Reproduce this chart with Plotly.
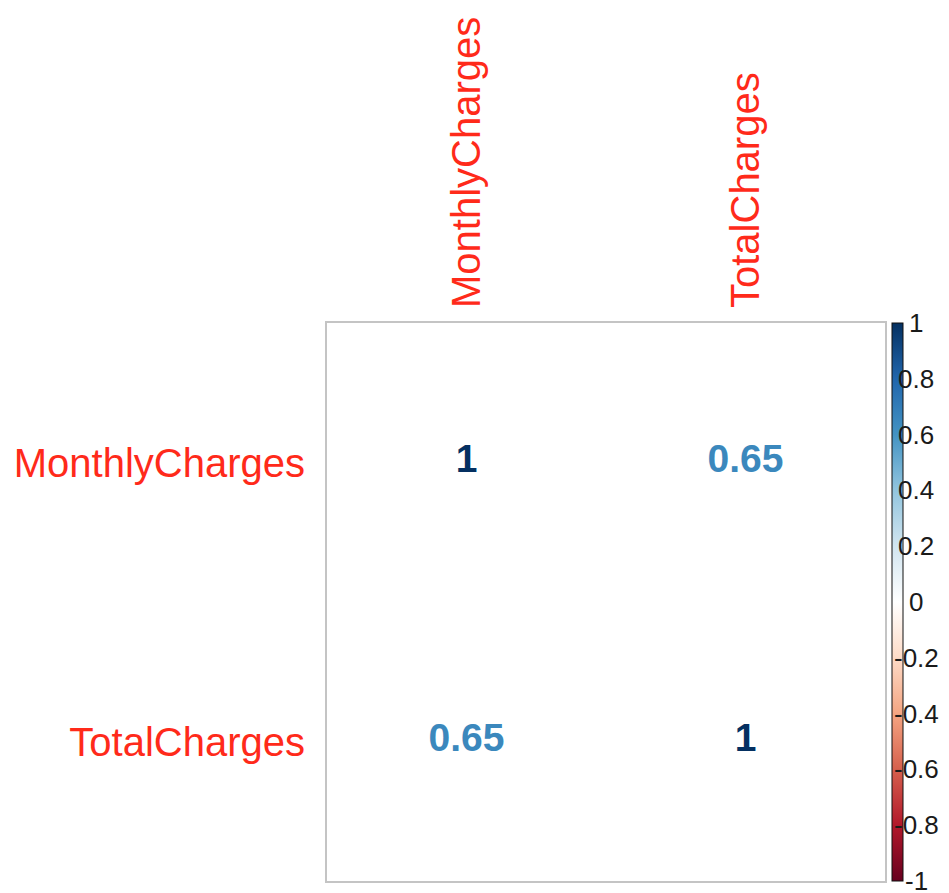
import plotly.graph_objects as go
from plotly.colors import sample_colorscale

# Data
variables = ["MonthlyCharges", "TotalCharges"]
corr = [[1.00, 0.65],
        [0.65, 1.00]]
bar_ticks = [1, 0.8, 0.6, 0.4, 0.2, 0, -0.2, -0.4, -0.6, -0.8, -1]
bar_labels = ["1", "0.8", "0.6", "0.4", "0.2", "0", "-0.2", "-0.4", "-0.6", "-0.8", "-1"]

rdbu = ["#67001F", "#B2182B", "#D6604D", "#F4A582", "#FDDBC7", "#FFFFFF",
        "#D1E5F0", "#92C5DE", "#4393C3", "#2166AC", "#053061"]
colorscale = [[i / (len(rdbu) - 1), c] for i, c in enumerate(rdbu)]

xs, ys, vals, texts = [], [], [], []
for i, row in enumerate(corr):
    for j, v in enumerate(row):
        xs.append(variables[j])
        ys.append(variables[i])
        vals.append(v)
        texts.append(f"{v:g}")

text_colors = sample_colorscale(colorscale, [(v + 1) / 2 for v in vals])

fig = go.Figure()
fig.add_trace(go.Scatter(
    x=xs, y=ys, mode="markers+text", text=texts,
    textposition="middle center",
    textfont=dict(family="Liberation Sans, Arial", size=39, color=text_colors, weight="bold"),
    marker=dict(size=0.1, color=vals, colorscale=colorscale, cmin=-1, cmax=1,
                showscale=True,
                colorbar=dict(thicknessmode="pixels", thickness=11,
                              lenmode="fraction", len=1.0, y=0.5, yanchor="middle",
                              x=1.0127, xanchor="left", xpad=0, ypad=0,
                              outlinewidth=1, outlinecolor="#111",
                              showticklabels=False, ticks="")),
    hoverinfo="skip", showlegend=False,
))

for v, lab in zip(bar_ticks, bar_labels):
    fig.add_annotation(x=1.056, y=(v + 1) / 2, xref="paper", yref="paper",
                       text=lab, showarrow=False, xanchor="center", yanchor="middle",
                       font=dict(family="Liberation Sans, Arial", size=26, color="#1a1a1a"))

axis_common = dict(
    type="category", categoryorder="array", categoryarray=variables,
    showgrid=False, zeroline=False, automargin=False,
    showline=True, mirror=True, linecolor="#C4C4C4", linewidth=2,
    tickfont=dict(family="Liberation Sans, Arial", size=40, color="#FF2A1A"),
    ticks="outside", tickcolor="rgba(0,0,0,0)",
    minor=dict(showgrid=True, gridcolor="#C4C4C4", gridwidth=2, ticks=""),
)

# the page body adds an 8px offset; margins compensate for it
fig.update_layout(
    width=949, height=893,
    margin=dict(l=319, r=72, t=315, b=20, autoexpand=False),
    plot_bgcolor="white", paper_bgcolor="white",
    xaxis=dict(**axis_common, side="top", tickangle=-90, ticklen=5,
               range=[-0.5, 1.5]),
    yaxis=dict(**axis_common, autorange=False, range=[1.5, -0.5], ticklen=12),
)

fig.write_html("out.html")
